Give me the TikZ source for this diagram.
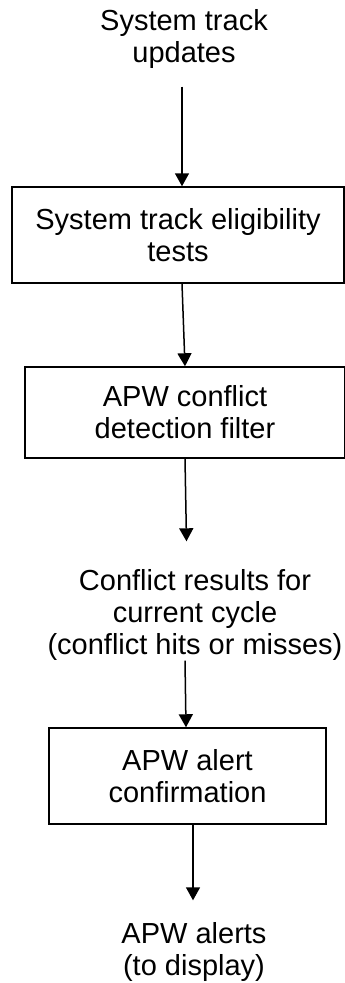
\documentclass[tikz,border=0pt]{standalone}
\usepackage{fontspec}
\setmainfont{Liberation Sans}
\usetikzlibrary{arrows.meta,calc}
\begin{document}
\begin{tikzpicture}[x=1pt,y=-1pt,
  every node/.style={font=\fontsize{29}{32}\selectfont,align=center,inner sep=0pt},
  procbox/.style={draw,line width=1.5pt,minimum width=#1},
  arr/.style={line width=1.5pt,-{Triangle[width=14pt,length=13pt]}}]
\useasboundingbox (0,0) rectangle (345,983);
\node (t1) at (184,39) {System track\\updates};
\node[procbox=332pt,minimum height=96pt] (b1) at (178,235) {System track eligibility\\tests};
\node[procbox=320pt,minimum height=91pt] (b2) at (185,412.5) {APW conflict\\detection filter};
\node (t3) at (195,615) {Conflict results for\\current cycle\\(conflict hits or misses)};
\node[procbox=277pt,minimum height=96pt] (b3) at (187.5,776) {APW alert\\confirmation};
\node (t5) at (194,952) {APW alerts\\(to display)};
\draw[arr,shorten <=18pt] ($(t1.south)+(-2,0)$) -- ($(b1.north)+(4,0)$);
\draw[arr] ($(b1.south)+(4,0)$) -- ($(b2.north)+(0,0)$);
\draw[arr,shorten >=28pt] ($(b2.south)+(0,0)$) -- ($(t3.north)+(-8,0)$);
\draw[arr,shorten <=0pt] ($(t3.south)+(-10,0)$) -- ($(b3.north)+(-1.5,0)$);
\draw[arr,shorten >=22pt] ($(b3.south)+(5.5,0)$) -- ($(t5.north)+(-1,0)$);
\end{tikzpicture}
\end{document}
